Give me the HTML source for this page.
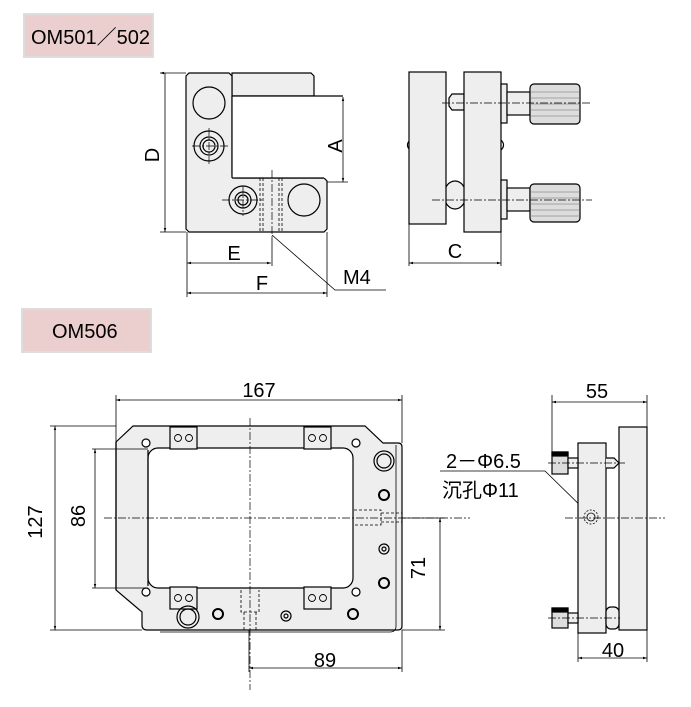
<!DOCTYPE html>
<html><head><meta charset="utf-8"><style>
html,body{margin:0;padding:0;background:#fff;width:691px;height:707px;overflow:hidden}
svg{display:block}
text{font-family:"Liberation Sans","Noto Sans CJK SC",sans-serif;fill:#000}
</style></head><body>
<svg width="691" height="707" viewBox="0 0 691 707" xmlns="http://www.w3.org/2000/svg">
<defs>
<marker id="a" viewBox="0 0 10 10" refX="10" refY="5" markerWidth="7" markerHeight="5" orient="auto-start-reverse"><path d="M0,2 L10,5 L0,8z" fill="#000"/></marker>
</defs>
<rect x="24" y="14" width="129" height="43" fill="#ebcfcf" stroke="#ddd" stroke-width="2"/>
<text x="31" y="44" font-size="20">OM501／502</text>
<rect x="22" y="309" width="129" height="43" fill="#ebcfcf" stroke="#ddd" stroke-width="2"/>
<text x="52" y="338" font-size="20">OM506</text>

<g stroke="#000" stroke-width="1.2" fill="none">
<path d="M232,73 H311 L314,76 V96 H232Z" fill="#eee"/>
<path d="M189,73 H229 L232,76 V175 L235,178 H324 L327,181 V229 L324,232 H189 L186,229 V76Z" fill="#eee"/>
<rect x="232" y="96" width="111" height="82" fill="#fff" stroke="none"/>
<path d="M232,96 H343 M232,96 V178 M232,178 H324"/>
<circle cx="209" cy="103" r="16"/>
<circle cx="209" cy="146" r="15"/><circle cx="209" cy="146" r="9"/><circle cx="209" cy="146" r="6"/>
<circle cx="243" cy="200" r="14"/><circle cx="243" cy="200" r="8"/><circle cx="243" cy="200" r="5"/>
<circle cx="304" cy="200" r="16"/>
<g stroke-width="0.8" stroke-dasharray="3,2"><path d="M260,178V232M263,178V232M279,178V232M282,178V232"/></g>
<g stroke-width="0.7" stroke-dasharray="8,2,2,2"><path d="M272,170V238M192,146H228M209,128V165M222,200H262M243,186V216"/></g>
<g stroke-width="0.8"><path d="M160,73H186M160,232H186M165,73V232" marker-start="url(#a)" marker-end="url(#a)"/>
<path d="M343,97V182" marker-start="url(#a)" marker-end="url(#a)"/><path d="M327,182H348"/>
<path d="M187,232V297M272,238V266M327,232V297M409,224V266M501,232V266"/>
<path d="M187,263H271" marker-start="url(#a)" marker-end="url(#a)"/>
<path d="M187,293H327" marker-start="url(#a)" marker-end="url(#a)"/>
<path d="M409,263H501" marker-start="url(#a)" marker-end="url(#a)"/>
<path d="M272,235L335,290H386"/></g>
<path d="M449,98 L452,94 H464 V110 H452 L449,106Z" fill="#eee"/>
<ellipse cx="455" cy="195" rx="11" ry="14" fill="#eee"/>
<path d="M410,140 q-5,5 0,10M501,140 q5,5 0,10"/>
<rect x="409" y="72" width="37" height="152" fill="#eee"/>
<rect x="464" y="72" width="37" height="160" fill="#eee"/>
<rect x="501" y="84" width="6" height="39" fill="#eee"/><rect x="507" y="92" width="23" height="23" fill="#eee"/>
<rect x="530" y="84" width="50" height="40" rx="4" fill="#ddd"/>
<rect x="501" y="180" width="6" height="39" fill="#eee"/><rect x="507" y="188" width="23" height="23" fill="#eee"/>
<rect x="530" y="184" width="50" height="38" rx="4" fill="#ddd"/>
<g stroke-width="0.5" stroke="#666"><path d="M530,92H580M530,98H580M530,104H580M530,110H580M530,116H580M530,192H580M530,198H580M530,204H580M530,210H580M530,216H580"/></g>
<g stroke-width="0.7" stroke-dasharray="8,2,2,2"><path d="M442,103H592M432,200H592"/></g>

<path d="M116,442 L133,426 H365 L383,443 H398 Q402,443 402,447 V626 Q402,630 398,630 H147 Q142,630 142,625 V612 L116,590Z" fill="#eee"/>
<path d="M396,445 V626 Q396,632 390,632 H160" stroke-width="0.8"/>
<rect x="148" y="448" width="205" height="140" rx="10" fill="#fff"/>
<path d="M116,442V590M148,450V586"/>
<circle cx="146" cy="443" r="4" fill="#fff"/><circle cx="356" cy="443" r="4" fill="#fff"/>
<circle cx="146" cy="592" r="4" fill="#fff"/><circle cx="356" cy="592" r="4" fill="#fff"/>
<rect x="170" y="427" width="27" height="22" fill="#eee"/><rect x="304" y="427" width="27" height="22" fill="#eee"/>
<rect x="170" y="587" width="27" height="22" fill="#eee"/><rect x="304" y="587" width="27" height="22" fill="#eee"/>
<g stroke-width="0.9"><circle cx="178" cy="438" r="3.5"/><circle cx="189" cy="438" r="3.5"/><circle cx="312" cy="438" r="3.5"/><circle cx="323" cy="438" r="3.5"/>
<circle cx="178" cy="598" r="3.5"/><circle cx="189" cy="598" r="3.5"/><circle cx="312" cy="598" r="3.5"/><circle cx="323" cy="598" r="3.5"/></g>
<circle cx="384" cy="461" r="10"/><circle cx="384" cy="461" r="7"/>
<circle cx="384" cy="495" r="5" stroke-width="2"/><circle cx="384" cy="549" r="5"/><circle cx="384" cy="549" r="2"/>
<circle cx="384" cy="583" r="5" stroke-width="2"/>
<circle cx="188" cy="617" r="11"/><circle cx="188" cy="617" r="8"/>
<circle cx="218" cy="614" r="5" stroke-width="2"/><circle cx="286" cy="616" r="5"/><circle cx="286" cy="616" r="2"/><circle cx="353" cy="614" r="5" stroke-width="2"/>
<g stroke-width="0.8" stroke-dasharray="3,2"><path d="M354,510H381V525H354M381,513H402M381,522H402M241,590V612H259V590M244,612V632M256,612V632"/></g>
<g stroke-width="0.7" stroke-dasharray="8,2,2,2"><path d="M104,518H470M250,418V690"/></g>
<g stroke-width="0.8"><path d="M116,395V442M402,395V443M50,426H116M50,630H142M92,449H148M92,588H148M402,518H445M402,630H445M249,630V672M402,630V672"/>
<path d="M116,400H402" marker-start="url(#a)" marker-end="url(#a)"/>
<path d="M55,426V630" marker-start="url(#a)" marker-end="url(#a)"/>
<path d="M95,449V588" marker-start="url(#a)" marker-end="url(#a)"/>
<path d="M440,518V630" marker-start="url(#a)" marker-end="url(#a)"/>
<path d="M249,668H402" marker-start="url(#a)" marker-end="url(#a)"/>
<path d="M552,395V452M647,395V427M578,633V662M647,630V662"/>
<path d="M552,402H647" marker-start="url(#a)" marker-end="url(#a)"/>
<path d="M578,658H647" marker-start="url(#a)" marker-end="url(#a)"/>
<path d="M440,471H545L590,515"/></g>
<rect x="578" y="443" width="28" height="190" fill="#eee"/>
<rect x="619" y="427" width="28" height="203" fill="#eee"/>
<rect x="552" y="452" width="16" height="22" fill="#ddd"/><rect x="552" y="452" width="16" height="4" fill="#000"/>
<rect x="568" y="458" width="10" height="10" fill="#eee"/>
<path d="M606,458H614L619,463L614,468H606" fill="#eee"/>
<rect x="552" y="608" width="16" height="20" fill="#ddd"/><rect x="552" y="608" width="16" height="4" fill="#000"/>
<rect x="568" y="613" width="10" height="10" fill="#eee"/>
<rect x="606" y="607" width="13" height="22" rx="5" fill="#eee"/>
<circle cx="591" cy="517" r="7" stroke-dasharray="2,1.5" stroke-width="0.8"/><circle cx="591" cy="517" r="4" stroke-width="0.8"/>
<g stroke-width="0.7" stroke-dasharray="8,2,2,2"><path d="M548,463H625M565,518H665M548,618H620"/></g>
</g>

<g font-size="20">
<text x="152" y="162" transform="rotate(-90 152 155)" text-anchor="middle">D</text>
<text x="336" y="152" transform="rotate(-90 336 146)" text-anchor="middle">A</text>
<text x="234" y="260" text-anchor="middle">E</text>
<text x="262" y="290" text-anchor="middle">F</text>
<text x="343" y="284">M4</text>
<text x="455" y="258" text-anchor="middle">C</text>
<text x="259" y="397" text-anchor="middle">167</text>
<text x="48" y="528" transform="rotate(-90 42 528)" text-anchor="middle">127</text>
<text x="91" y="522" transform="rotate(-90 85 522)" text-anchor="middle">86</text>
<text x="432" y="575" transform="rotate(-90 425 575)" text-anchor="middle">71</text>
<text x="325" y="667" text-anchor="middle">89</text>
<text x="597" y="398" text-anchor="middle">55</text>
<text x="613" y="657" text-anchor="middle">40</text>
<text x="446" y="468">2－Φ6.5</text>
<text x="442" y="497">沉孔Φ11</text>
</g>
</svg>
</body></html>
